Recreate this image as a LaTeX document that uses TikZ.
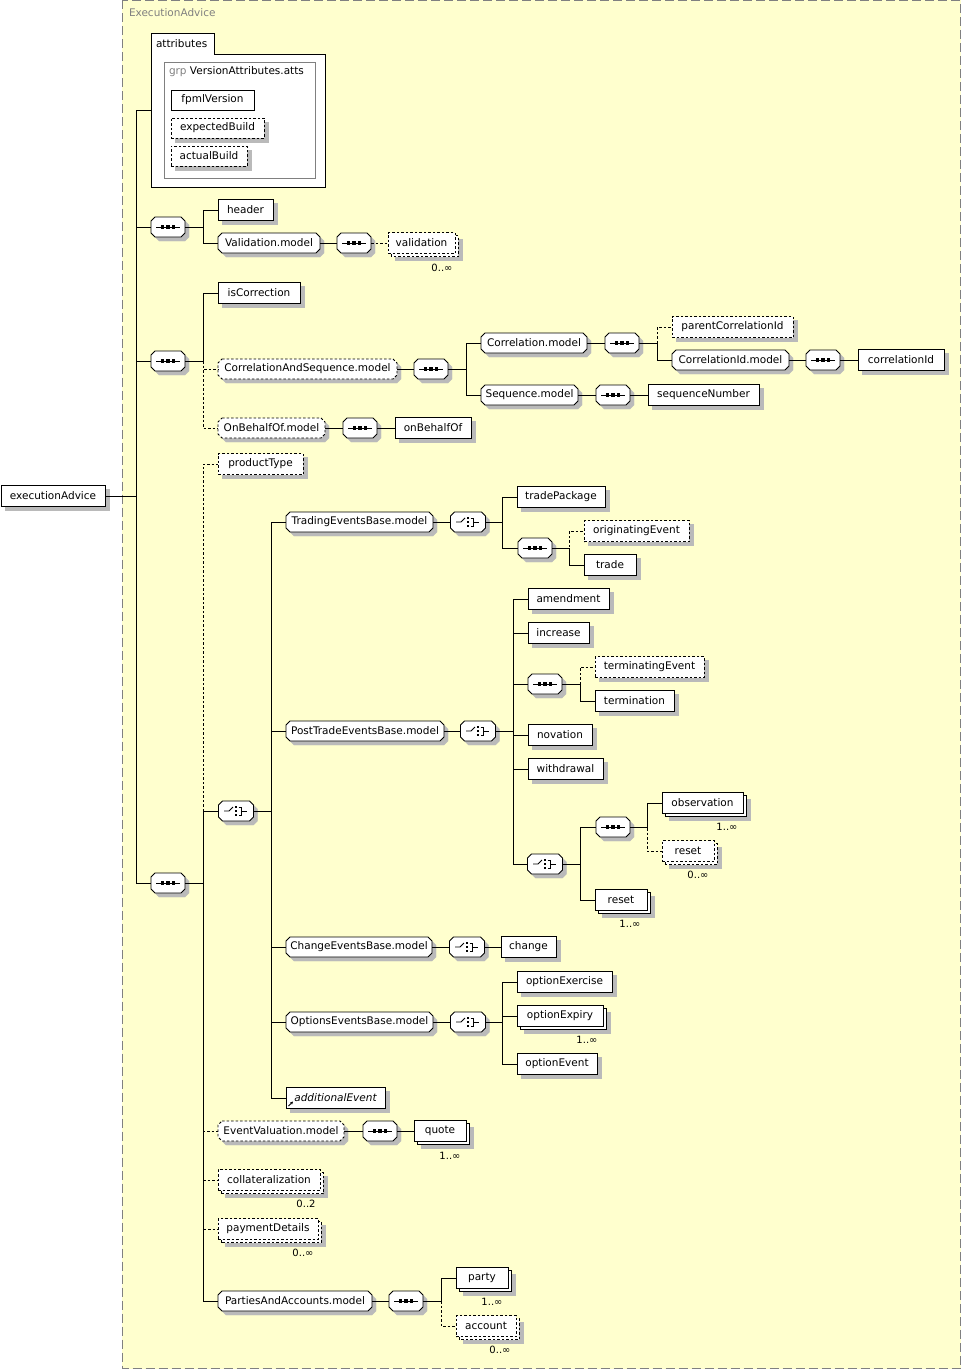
\documentclass[tikz,border=0pt]{standalone}
\usepackage{fontspec}
\setmainfont{DejaVu Sans}
\usetikzlibrary{arrows.meta}
\pgfdeclarelayer{bgl}
\pgfdeclarelayer{shapes}
\pgfsetlayers{bgl,shapes,main}
\definecolor{bgy}{RGB}{255,255,206}
\definecolor{frm}{RGB}{128,128,128}
\definecolor{sgray}{RGB}{186,186,186}
\newcommand\lnk[4]{\draw[#1] (#2.east) -- (#2.east -| #3) |- (#4.west);}
\newcommand\stl[3]{\draw[#1] (#2.east) -- (#3.west);}
\newcommand\boxshd[2]{\begin{pgfonlayer}{shapes}\draw[draw=sgray, fill=sgray, line width=0.1pt] ([shift={(#2,-#2)}]#1.south west) rectangle ([shift={(#2,-#2)}]#1.north east);\end{pgfonlayer}}
\newcommand\dblcopy[2]{\begin{pgfonlayer}{shapes}\draw[ln, fill=white, #1] ([shift={(3pt,-3pt)}]#2.south west) rectangle ([shift={(3pt,-3pt)}]#2.north east);\end{pgfonlayer}}
\newcommand\octshd[1]{\begin{pgfonlayer}{shapes}\draw[draw=sgray, fill=sgray, line width=0.1pt] ([shift={(8pt,-4pt)}]#1.north west) -- ([shift={(0pt,-4pt)}]#1.north east) -- ([shift={(4pt,-8pt)}]#1.north east) -- ([shift={(4pt,0pt)}]#1.south east) -- ([shift={(0pt,-4pt)}]#1.south east) -- ([shift={(8pt,-4pt)}]#1.south west) -- ([shift={(4pt,0pt)}]#1.south west) -- ([shift={(4pt,-8pt)}]#1.north west) -- cycle;\end{pgfonlayer}}
\newcommand\octo[2]{\begin{pgfonlayer}{shapes}\draw[ln, fill=white, #1] ([xshift=4pt]#2.north west) -- ([xshift=-4pt]#2.north east) -- ([yshift=-4pt]#2.north east) -- ([yshift=4pt]#2.south east) -- ([xshift=-4pt]#2.south east) -- ([xshift=4pt]#2.south west) -- ([yshift=4pt]#2.south west) -- ([yshift=-4pt]#2.north west) -- cycle;\end{pgfonlayer}}
\newcommand\seqsym[1]{\begin{scope}[shift={(#1.center)}]
 \draw[ln] (-12,0) -- (12,0);
 \foreach \dx in {-5.5,0,5.5}{\fill[black] (\dx-1.6,-1.6) rectangle (\dx+1.6,1.6);}
 \end{scope}}
\newcommand\chsym[1]{\begin{scope}[shift={(#1.center)}]
 \draw[ln] (-12,0) -- (-7,0) -- (-3,-4);
 \foreach \dy in {-4,0,4}{\fill[black] (-1.5,\dy-1.4) rectangle (1.2,\dy+1.4);}
 \draw[ln] (2.5,-4) -- (5.5,-4) -- (5.5,4) -- (2.5,4);
 \draw[ln] (5.5,0) -- (11,0);
 \end{scope}}
\tikzset{
 every node/.style={font=\fontsize{10.5}{12}\selectfont, inner sep=0pt, outer sep=0pt},
 ln/.style={line width=0.9pt},
 dsh/.style={dash pattern=on 2.5pt off 2pt},
 el/.style={rectangle, draw, ln, fill=white, minimum height=21pt, anchor=west},
 oel/.style={el, dsh},
 atel/.style={rectangle, draw, ln, fill=white, minimum height=20pt, anchor=west},
 oatel/.style={atel, dsh},
 grpn/.style={rectangle, minimum height=20pt, anchor=west},
 comp/.style={rectangle, minimum width=34pt, minimum height=20pt},
 cn/.style={ln},
 ocn/.style={ln, dsh},
 card/.style={font=\fontsize{10}{12}\selectfont},
}
\begin{document}
\begin{tikzpicture}[x=1pt,y=-1pt]
\useasboundingbox (0,0) rectangle (961,1370);
% background frame
\begin{pgfonlayer}{bgl}
\fill[bgy] (122,0) rectangle (961,1369);
\draw[frm, line width=0.9pt, dash pattern=on 9pt off 4pt] (122.5,0.5) rectangle (960.5,1368.5);
\end{pgfonlayer}
\node[anchor=west, text=frm] (ttl) at (129,13) {ExecutionAdvice};

% trunks
\coordinate (T0) at (136,0);
\coordinate (T1) at (203,0);
\coordinate (Ta) at (466,0);
\coordinate (Tb) at (657,0);
\coordinate (Tc) at (271,0);
\coordinate (Td) at (502,0);
\coordinate (Te) at (569,0);
\coordinate (Tf) at (513,0);
\coordinate (Tg) at (580,0);
\coordinate (Th) at (647,0);
\coordinate (Ti) at (441,0);

% root
\node[el, minimum width=104pt] (ea) at (1,496) {executionAdvice};

% attributes
\begin{pgfonlayer}{bgl}
\draw[ln, fill=white] (151,33) -- (214,33) -- (214,54) -- (325,54) -- (325,187) -- (151,187) -- cycle;
\end{pgfonlayer}
\node[anchor=west] (atlbl) at (156,43.5) {attributes};
\node[minimum width=174pt, minimum height=154pt, anchor=north west] (attrs) at (151,33) {};
\node[draw=frm, ln, minimum width=151pt, minimum height=116pt, anchor=north west] (grp) at (164,62) {};
\node[anchor=west] (grplbl) at (169,72) {\textcolor{frm}{grp} VersionAttributes.atts};
\node[atel, minimum width=83pt] (fpv) at (171,100) {fpmlVersion};
\node[oatel, minimum width=93pt] (exb) at (171,128) {expectedBuild};
\node[oatel, minimum width=76pt] (acb) at (171,156) {actualBuild};

% group 1
\node[comp] (s1) at (168,227) {};
\node[el, minimum width=55pt] (header) at (218,210) {header};
\node[grpn, minimum width=102pt] (valm) at (218,243) {Validation.model};
\node[comp] (s1a) at (354,243) {};
\node[oel, minimum width=67pt] (valid) at (388,243) {validation};
\node[card] (cvalid) at (442,268) {0..∞};

% group 2
\node[comp] (s2) at (168,361) {};
\node[el, minimum width=82pt] (iscor) at (218,293) {isCorrection};
\node[grpn, minimum width=179pt] (cas) at (218,369) {CorrelationAndSequence.model};
\node[grpn, minimum width=107pt] (obo) at (218,428) {OnBehalfOf.model};
\node[comp] (s2a) at (431,369) {};
\node[grpn, minimum width=106pt] (corm) at (481,343) {Correlation.model};
\node[grpn, minimum width=97pt] (seqm) at (481,395) {Sequence.model};
\node[comp] (s2b) at (622,343) {};
\node[oel, minimum width=121pt] (pcid) at (672,327) {parentCorrelationId};
\node[grpn, minimum width=117pt] (cidm) at (672,360) {CorrelationId.model};
\node[comp] (s2c) at (823,360) {};
\node[el, minimum width=86pt] (cid) at (858,360) {correlationId};
\node[comp] (s2d) at (613,395) {};
\node[el, minimum width=111pt] (seqn) at (648,395) {sequenceNumber};
\node[comp] (s2e) at (360,428) {};
\node[el, minimum width=76pt] (obof) at (395,428) {onBehalfOf};

% group 3
\node[comp] (s3) at (168,883) {};
\node[oel, minimum width=85pt] (ptype) at (218,464) {productType};
\node[comp, minimum width=35pt] (c1) at (236,811) {};
\node[grpn, minimum width=147pt] (tebm) at (286,522) {TradingEventsBase.model};
\node[comp, minimum width=35pt] (c2) at (468,522) {};
\node[el, minimum width=88pt] (tpkg) at (517,497) {tradePackage};
\node[comp] (s3a) at (535,548) {};
\node[oel, minimum width=105pt] (orig) at (584,531) {originatingEvent};
\node[el, minimum width=52pt] (trade) at (584,565) {trade};
\node[grpn, minimum width=158pt] (ptebm) at (286,731) {PostTradeEventsBase.model};
\node[comp, minimum width=35pt] (c3) at (478,731) {};
\node[el, minimum width=81pt] (amend) at (528,599) {amendment};
\node[el, minimum width=61pt] (incr) at (528,633) {increase};
\node[comp] (s3b) at (545,684) {};
\node[oel, minimum width=109pt] (termev) at (595,667) {terminatingEvent};
\node[el, minimum width=79pt] (term) at (595,701) {termination};
\node[el, minimum width=64pt] (nov) at (528,735) {novation};
\node[el, minimum width=75pt] (wd) at (528,769) {withdrawal};
\node[comp, minimum width=35pt] (c4) at (545,864) {};
\node[comp] (s3c) at (613,827) {};
\node[el, minimum width=81pt] (obs) at (662,803) {observation};
\node[card] (cobs) at (727,827) {1..∞};
\node[oel, minimum width=52pt] (rst1) at (662,851) {reset};
\node[card] (crst1) at (698,875) {0..∞};
\node[el, minimum width=52pt] (rst2) at (595,900) {reset};
\node[card] (crst2) at (630,924) {1..∞};
\node[grpn, minimum width=146pt] (cebm) at (286,947) {ChangeEventsBase.model};
\node[comp, minimum width=35pt] (c5) at (467,947) {};
\node[el, minimum width=55pt] (chg) at (501,947) {change};
\node[grpn, minimum width=147pt] (oebm) at (286,1022) {OptionsEventsBase.model};
\node[comp, minimum width=35pt] (c6) at (468,1022) {};
\node[el, minimum width=95pt] (oex) at (517,982) {optionExercise};
\node[el, minimum width=86pt] (oexp) at (517,1016) {optionExpiry};
\node[card] (coexp) at (587,1040) {1..∞};
\node[el, minimum width=80pt] (oev) at (517,1064) {optionEvent};
\node[el, minimum width=99pt, font=\fontsize{10.5}{12}\selectfont\itshape] (addev) at (286,1098) {additionalEvent};
\draw[ln, -{Stealth[length=3pt,width=3pt]}] ([xshift=2.5pt,yshift=2.5pt]addev.south west) -- ++(4.5,-4.5);
\node[grpn, minimum width=126pt] (evm) at (218,1131) {EventValuation.model};
\node[comp] (s3d) at (380,1131) {};
\node[el, minimum width=52pt] (quote) at (414,1131) {quote};
\node[card] (cquote) at (450,1156) {1..∞};
\node[oel, minimum width=102pt] (coll) at (218,1180) {collateralization};
\node[card] (ccoll) at (306,1204) {0..2};
\node[oel, minimum width=100pt] (pay) at (218,1229) {paymentDetails};
\node[card] (cpay) at (303,1253) {0..∞};
\node[grpn, minimum width=154pt] (pam) at (218,1301) {PartiesAndAccounts.model};
\node[comp] (s3e) at (406,1301) {};
\node[el, minimum width=52pt] (party) at (456,1278) {party};
\node[card] (cparty) at (492,1302) {1..∞};
\node[oel, minimum width=60pt] (acct) at (456,1326) {account};
\node[card] (cacct) at (500,1350) {0..∞};

% shadows first (shapes layer), then octagons and multiplicity copies
\foreach \n in {ea,header,iscor,pcid,cid,seqn,obof,ptype,tpkg,orig,trade,amend,incr,termev,term,nov,wd,chg,oex,oev,addev,exb,acb}{\boxshd{\n}{4pt}}
\foreach \n in {obs,rst2,oexp,quote,party,valid,rst1,coll,pay,acct}{\boxshd{\n}{7pt}}
\foreach \n in {valm,corm,seqm,cidm,tebm,ptebm,cebm,oebm,pam,cas,obo,evm,s1,s1a,s2,s2a,s2b,s2c,s2d,s2e,s3,s3a,s3b,s3c,s3d,s3e,c1,c2,c3,c4,c5,c6}{\octshd{\n}}
\foreach \n in {valm,corm,seqm,cidm,tebm,ptebm,cebm,oebm,pam,s1,s1a,s2,s2a,s2b,s2c,s2d,s2e,s3,s3a,s3b,s3c,s3d,s3e,c1,c2,c3,c4,c5,c6}{\octo{}{\n}}
\foreach \n in {cas,obo,evm}{\octo{dsh}{\n}}
\foreach \n in {obs,rst2,oexp,quote,party}{\dblcopy{}{\n}}
\foreach \n in {valid,rst1,coll,pay,acct}{\dblcopy{dsh}{\n}}
\foreach \n in {s1,s1a,s2,s2a,s2b,s2c,s2d,s2e,s3,s3a,s3b,s3c,s3d,s3e}{\seqsym{\n}}
\foreach \n in {c1,c2,c3,c4,c5,c6}{\chsym{\n}}

% optional connectors (dashed) first
\lnk{ocn}{s2}{T1}{cas}
\lnk{ocn}{s2}{T1}{obo}
\lnk{ocn}{s2b}{Tb}{pcid}
\lnk{ocn}{s3}{T1}{ptype}
\lnk{ocn}{s3}{T1}{evm}
\lnk{ocn}{s3}{T1}{coll}
\lnk{ocn}{s3}{T1}{pay}
\lnk{ocn}{s3a}{Te}{orig}
\lnk{ocn}{s3b}{Tg}{termev}
\lnk{ocn}{s3c}{Th}{rst1}
\lnk{ocn}{s3e}{Ti}{acct}
\stl{ocn}{s1a}{valid}

% required connectors
\lnk{cn}{ea}{T0}{attrs}
\lnk{cn}{ea}{T0}{s1}
\lnk{cn}{ea}{T0}{s2}
\lnk{cn}{ea}{T0}{s3}
\lnk{cn}{s1}{T1}{header}
\lnk{cn}{s1}{T1}{valm}
\stl{cn}{valm}{s1a}
\lnk{cn}{s2}{T1}{iscor}
\stl{cn}{cas}{s2a}
\lnk{cn}{s2a}{Ta}{corm}
\lnk{cn}{s2a}{Ta}{seqm}
\stl{cn}{corm}{s2b}
\lnk{cn}{s2b}{Tb}{cidm}
\stl{cn}{cidm}{s2c}
\stl{cn}{s2c}{cid}
\stl{cn}{seqm}{s2d}
\stl{cn}{s2d}{seqn}
\stl{cn}{obo}{s2e}
\stl{cn}{s2e}{obof}
\lnk{cn}{s3}{T1}{c1}
\lnk{cn}{s3}{T1}{pam}
\lnk{cn}{c1}{Tc}{tebm}
\lnk{cn}{c1}{Tc}{ptebm}
\lnk{cn}{c1}{Tc}{cebm}
\lnk{cn}{c1}{Tc}{oebm}
\lnk{cn}{c1}{Tc}{addev}
\stl{cn}{tebm}{c2}
\lnk{cn}{c2}{Td}{tpkg}
\lnk{cn}{c2}{Td}{s3a}
\lnk{cn}{s3a}{Te}{trade}
\stl{cn}{ptebm}{c3}
\lnk{cn}{c3}{Tf}{amend}
\lnk{cn}{c3}{Tf}{incr}
\lnk{cn}{c3}{Tf}{s3b}
\lnk{cn}{c3}{Tf}{nov}
\lnk{cn}{c3}{Tf}{wd}
\lnk{cn}{c3}{Tf}{c4}
\lnk{cn}{s3b}{Tg}{term}
\lnk{cn}{c4}{Tg}{s3c}
\lnk{cn}{c4}{Tg}{rst2}
\lnk{cn}{s3c}{Th}{obs}
\stl{cn}{cebm}{c5}
\stl{cn}{c5}{chg}
\stl{cn}{oebm}{c6}
\lnk{cn}{c6}{Td}{oex}
\lnk{cn}{c6}{Td}{oexp}
\lnk{cn}{c6}{Td}{oev}
\stl{cn}{evm}{s3d}
\stl{cn}{s3d}{quote}
\stl{cn}{pam}{s3e}
\lnk{cn}{s3e}{Ti}{party}
\end{tikzpicture}
\end{document}
